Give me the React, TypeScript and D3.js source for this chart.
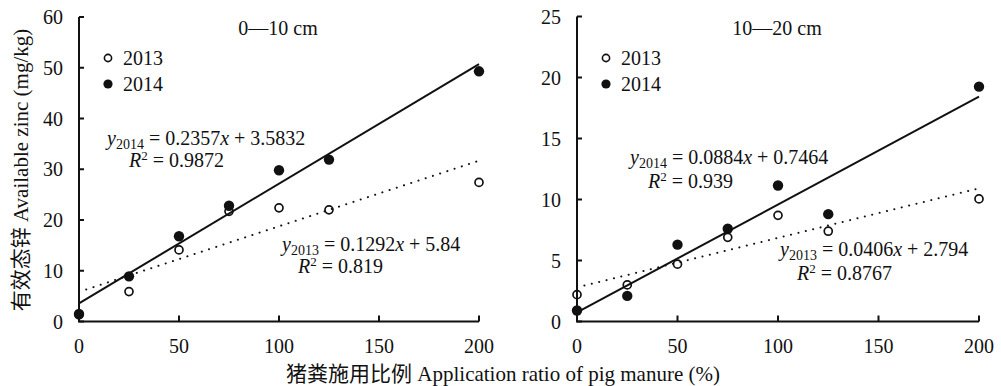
import React from "react";
import * as d3 from "d3";

// ---- data ----
const doses = [0, 25, 50, 75, 100, 125, 200];
const xTicks = [0, 50, 100, 150, 200];

const top2013 = [1.3, 5.9, 14.1, 21.7, 22.4, 22.0, 27.4];
const top2014 = [1.5, 8.9, 16.8, 22.8, 29.8, 31.9, 49.3];
const sub2013 = [2.2, 3.0, 4.7, 6.9, 8.7, 7.4, 10.05];
const sub2014 = [0.9, 2.1, 6.3, 7.6, 11.15, 8.8, 19.25];

const topYTicks = [0, 10, 20, 30, 40, 50, 60];
const subYTicks = [0, 5, 10, 15, 20, 25];

// fit coefficients [slope, intercept, r2]
const topFit2013 = [0.1292, 5.84, "0.819"];
const topFit2014 = [0.2357, 3.5832, "0.9872"];
const subFit2013 = [0.0406, 2.794, "0.8767"];
const subFit2014 = [0.0884, 0.7464, "0.939"];

const FONT = "'Liberation Serif', 'Times New Roman', 'Noto Sans CJK SC', serif";

const Equation = ({ x, y, rx, ry, year, fit }) => (
  <g fontFamily={FONT} fontSize={20} fill="#111">
    <text x={x} y={y}>
      <tspan fontStyle="italic">y</tspan>
      <tspan fontSize={14} dy={4}>{year}</tspan>
      <tspan dy={-4}>{` = ${fit[0]}`}</tspan>
      <tspan fontStyle="italic">x</tspan>
      <tspan>{` + ${fit[1]}`}</tspan>
    </text>
    <text x={rx} y={ry}>
      <tspan fontStyle="italic">R</tspan>
      <tspan fontSize={13} dy={-7}>2</tspan>
      <tspan dy={7}>{` = ${fit[2]}`}</tspan>
    </text>
  </g>
);

const Panel = ({ left, right, top, bottom, yMax, yTicks, s2013, s2014, fit2013, fit2014, title, eq }) => {
  const x = d3.scaleLinear().domain([0, 200]).range([left, right]);
  const y = d3.scaleLinear().domain([0, yMax]).range([bottom, top]);
  const line = d3.line<number>().x((d) => x(d));
  const fitPath = (f) => line.y((d) => y(f[0] * d + f[1]))([0, 200]);

  return (
    <g>
      {/* axes */}
      <path
        d={`M${x(0)},${y(yMax)}V${y(0)}H${x(200)}`}
        fill="none"
        stroke="#111"
        strokeWidth={2}
      />
      {yTicks.map((t) => (
        <g key={"y" + t}>
          <line x1={x(0)} x2={x(0) + 5} y1={y(t)} y2={y(t)} stroke="#111" strokeWidth={2} />
          <text
            x={x(0) - 16}
            y={y(t)}
            dy="0.35em"
            textAnchor="end"
            fontFamily={FONT}
            fontSize={20}
            fill="#111"
          >
            {t}
          </text>
        </g>
      ))}
      {xTicks.map((t) => (
        <g key={"x" + t}>
          <line x1={x(t)} x2={x(t)} y1={y(0)} y2={y(0) - 6} stroke="#111" strokeWidth={2} />
          <text x={x(t)} y={353} textAnchor="middle" fontFamily={FONT} fontSize={20} fill="#111">
            {t}
          </text>
        </g>
      ))}

      {/* fitted lines */}
      <path d={fitPath(fit2014)} fill="none" stroke="#111" strokeWidth={2} />
      <path
        d={fitPath(fit2013)}
        fill="none"
        stroke="#111"
        strokeWidth={2}
        strokeDasharray="0.1 7.5"
        strokeLinecap="round"
      />

      {/* points */}
      {doses.map((d, i) => (
        <circle key={"f" + i} cx={x(d)} cy={y(s2014[i])} r={5.2} fill="#111" />
      ))}
      {doses.map((d, i) => (
        <circle
          key={"o" + i}
          cx={x(d)}
          cy={y(s2013[i])}
          r={4}
          fill="none"
          stroke="#111"
          strokeWidth={1.7}
        />
      ))}

      {/* title */}
      <text x={(x(0) + x(200)) / 2 - 1} y={35} textAnchor="middle" fontFamily={FONT} fontSize={20} fill="#111">
        {title}
      </text>

      {/* legend */}
      <circle cx={x(0) + 29} cy={58} r={3.6} fill="none" stroke="#111" strokeWidth={1.6} />
      <circle cx={x(0) + 29} cy={84} r={4.6} fill="#111" />
      <text x={x(0) + 44} y={65} fontFamily={FONT} fontSize={20} fill="#111">2013</text>
      <text x={x(0) + 44} y={91} fontFamily={FONT} fontSize={20} fill="#111">2014</text>

      <Equation {...eq[0]} year="2014" fit={fit2014} />
      <Equation {...eq[1]} year="2013" fit={fit2013} />
    </g>
  );
};

export default function App() {
  return (
    <svg width={1001} height={386} style={{ display: "block", position: "absolute", left: 0, top: 0 }}>
      <rect width={1001} height={386} fill="#fff" />
      <Panel
        left={79}
        right={479}
        top={17}
        bottom={321.5}
        yMax={60}
        yTicks={topYTicks}
        s2013={top2013}
        s2014={top2014}
        fit2013={topFit2013}
        fit2014={topFit2014}
        title="0—10 cm"
        eq={[
          { x: 107, y: 145, rx: 129, ry: 167 },
          { x: 282, y: 251, rx: 298, ry: 273 },
        ]}
      />
      <Panel
        left={577}
        right={979}
        top={16.5}
        bottom={321.5}
        yMax={25}
        yTicks={subYTicks}
        s2013={sub2013}
        s2014={sub2014}
        fit2013={subFit2013}
        fit2014={subFit2014}
        title="10—20 cm"
        eq={[
          { x: 630, y: 164, rx: 648, ry: 188 },
          { x: 780, y: 256, rx: 797, ry: 280 },
        ]}
      />
      <text
        transform="translate(28,170) rotate(-90)"
        textAnchor="middle"
        fontFamily={FONT}
        fontSize={21}
        fill="#111"
      >
        有效态锌 Available zinc (mg/kg)
      </text>
      <text x={503} y={381} textAnchor="middle" fontFamily={FONT} fontSize={21} fill="#111">
        猪粪施用比例 Application ratio of pig manure (%)
      </text>
    </svg>
  );
}
